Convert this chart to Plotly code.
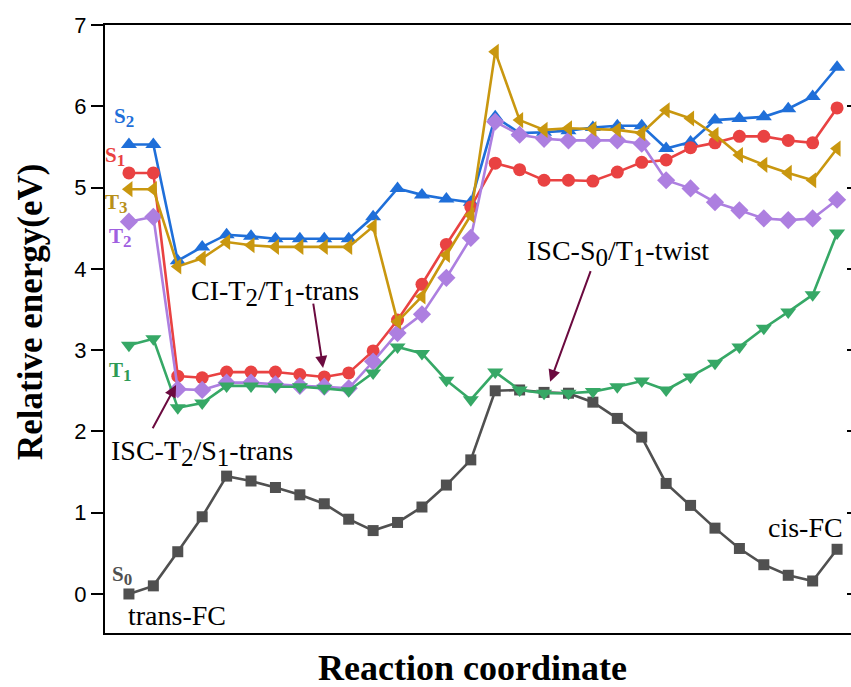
import plotly.graph_objects as go

x = list(range(30))

S0 = [0.0, 0.10, 0.52, 0.95, 1.45, 1.39, 1.31, 1.22, 1.11, 0.92,
      0.78, 0.88, 1.07, 1.34, 1.65, 2.50, 2.51, 2.48, 2.47, 2.36,
      2.16, 1.93, 1.36, 1.09, 0.81, 0.56, 0.36, 0.23, 0.16, 0.55]
T1 = [3.06, 3.14, 2.29, 2.35, 2.56, 2.56, 2.55, 2.55, 2.53, 2.50,
      2.72, 3.04, 2.96, 2.63, 2.39, 2.73, 2.51, 2.47, 2.47, 2.49,
      2.55, 2.62, 2.51, 2.67, 2.84, 3.04, 3.27, 3.47, 3.68, 4.44]
S1 = [5.18, 5.18, 2.68, 2.66, 2.73, 2.73, 2.73, 2.70, 2.67, 2.72,
      2.99, 3.37, 3.81, 4.30, 4.76, 5.30, 5.22, 5.09, 5.09, 5.08,
      5.19, 5.31, 5.34, 5.49, 5.55, 5.63, 5.63, 5.58, 5.55, 5.98]
S2 = [5.53, 5.53, 4.10, 4.27, 4.42, 4.40, 4.37, 4.37, 4.37, 4.37,
      4.64, 4.99, 4.91, 4.86, 4.82, 5.87, 5.67, 5.68, 5.70, 5.74,
      5.76, 5.76, 5.48, 5.56, 5.83, 5.85, 5.87, 5.97, 6.12, 6.48]
T3 = [4.98, 4.98, 4.03, 4.13, 4.33, 4.29, 4.27, 4.27, 4.27, 4.27,
      4.52, 3.35, 3.66, 4.17, 4.66, 6.67, 5.83, 5.71, 5.73, 5.72,
      5.71, 5.67, 5.95, 5.85, 5.65, 5.40, 5.28, 5.18, 5.09, 5.48]
T2 = [4.58, 4.64, 2.52, 2.51, 2.60, 2.60, 2.58, 2.56, 2.55, 2.53,
      2.86, 3.21, 3.44, 3.89, 4.38, 5.81, 5.65, 5.60, 5.58, 5.58,
      5.58, 5.54, 5.09, 4.99, 4.82, 4.72, 4.62, 4.60, 4.62, 4.85]

series = [
    ("S0", S0, "#505050", "square", 11),
    ("S2", S2, "#1f6fd9", "triangle-up", 14),
    ("S1", S1, "#e94242", "circle", 13),
    ("T2", T2, "#ad7fe0", "diamond", 14),
    ("T3", T3, "#c9970f", "triangle-left", 14),
    ("T1", T1, "#36a866", "triangle-down", 14),
]

y_ticks = [0, 1, 2, 3, 4, 5, 6, 7]

fig = go.Figure()
for name, vals, col, sym, sz in series:
    fig.add_trace(go.Scatter(
        x=x, y=vals, mode="lines+markers", name=name,
        line=dict(color=col, width=2.6),
        marker=dict(symbol=sym, size=sz, color=col, line=dict(width=0)),
        showlegend=False,
    ))

serif = "Liberation Serif, Times New Roman, serif"
sans = "Liberation Sans, Arial, sans-serif"


def sub(s, px):
    return "<sub><span style='font-size:%dpx'>%s</span></sub>" % (px, s)


# series labels
labels = [
    ("<b>S" + sub("2", 17) + "</b>", -0.22, 5.86, "#1f6fd9"),
    ("<b>S" + sub("1", 17) + "</b>", -0.58, 5.38, "#e94242"),
    ("<b>T" + sub("3", 17) + "</b>", -0.50, 4.81, "#b8901a"),
    ("<b>T" + sub("2", 17) + "</b>", -0.35, 4.38, "#a060e0"),
    ("<b>T" + sub("1", 17) + "</b>", -0.35, 2.74, "#2e9a55"),
    ("<b>S" + sub("0", 17) + "</b>", -0.27, 0.23, "#505050"),
]
for t, lx, ly, c in labels:
    fig.add_annotation(x=lx, y=ly, text=t, showarrow=False,
                       font=dict(family=serif, size=21, color=c),
                       xanchor="center", yanchor="middle")

texts = [
    ("trans-FC", 1.97, -0.27),
    ("cis-FC", 27.69, 0.82),
    ("CI-T" + sub("2", 25) + "/T" + sub("1", 25) + "-trans", 5.98, 3.70),
    ("ISC-T" + sub("2", 25) + "/S" + sub("1", 25) + "-trans", 2.99, 1.73),
    ("ISC-S" + sub("0", 25) + "/T" + sub("1", 25) + "-twist", 20.03, 4.19),
]
for t, lx, ly in texts:
    fig.add_annotation(x=lx, y=ly, text=t, showarrow=False,
                       font=dict(family=serif, size=28, color="black"),
                       xanchor="center", yanchor="middle")

arrows = [
    (7.95, 2.78, 7.54, 3.59),
    (1.93, 2.57, 0.94, 2.02),
    (17.25, 2.61, 18.93, 3.99),
]
for hx, hy, tx, ty in arrows:
    fig.add_annotation(x=hx, y=hy, ax=tx, ay=ty, axref="x", ayref="y",
                       text="", showarrow=True, arrowhead=2, arrowsize=1.2,
                       arrowwidth=2, arrowcolor="#6b0a3f", standoff=0)

# axis titles
fig.add_annotation(xref="paper", yref="paper", x=(30 - 105) / 746, y=(633 - 312) / 608,
                   text="<b>Relative energy(eV)</b>", textangle=-90, showarrow=False,
                   font=dict(family=serif, size=35, color="black"),
                   xanchor="center", yanchor="middle")
fig.add_annotation(xref="paper", yref="paper", x=(472 - 105) / 746, y=-(668 - 633) / 608,
                   text="<b>Reaction coordinate</b>", showarrow=False,
                   font=dict(family=serif, size=36, color="black"),
                   xanchor="center", yanchor="middle")

fig.update_layout(
    width=851, height=687,
    margin=dict(l=105, r=0, t=25, b=54),
    paper_bgcolor="white", plot_bgcolor="white",
    xaxis=dict(range=[-0.98, 29.57], showgrid=False, zeroline=False,
               showticklabels=False, ticks="", showline=True, mirror=True,
               linecolor="black", linewidth=2),
    yaxis=dict(range=[-0.48, 7.0], showgrid=False, zeroline=False,
               tickvals=y_ticks, ticks="outside", ticklen=12, tickwidth=2,
               tickcolor="black", showline=True, linecolor="black", linewidth=2,
               tickfont=dict(family=sans, size=22, color="black")),
    yaxis2=dict(range=[-0.48, 7.0], overlaying="y", side="right",
                tickvals=y_ticks, ticks="inside", ticklen=4, tickwidth=2,
                tickcolor="black", showticklabels=False, showline=False,
                showgrid=False, zeroline=False),
)
fig.add_trace(go.Scatter(x=[None], y=[None], yaxis="y2", showlegend=False))

fig.write_html("out.html")
